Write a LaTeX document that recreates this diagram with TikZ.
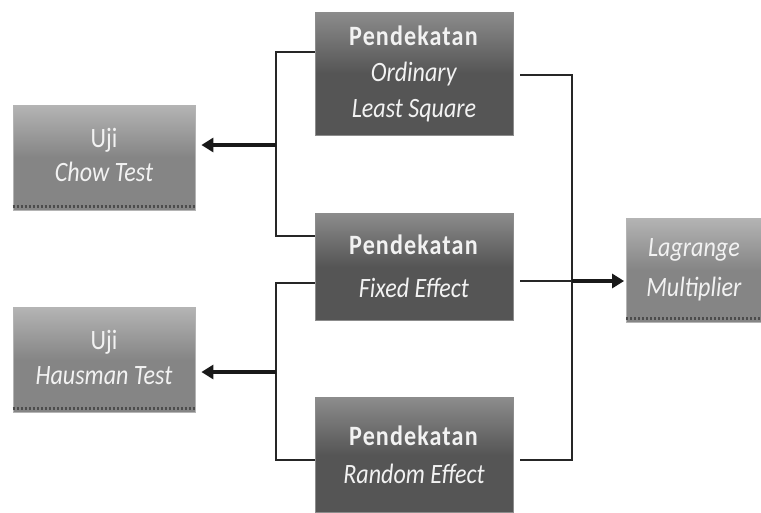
\documentclass[tikz,border=0pt]{standalone}
\usepackage{fontspec}
\setmainfont[FakeStretch=0.86]{Carlito}
\usetikzlibrary{arrows.meta}
\definecolor{darkbox}{HTML}{555555}
\definecolor{darktop}{HTML}{8C8C8C}
\definecolor{lightbox}{HTML}{858585}
\definecolor{lighttop}{HTML}{B4B4B4}
\definecolor{txt}{HTML}{F2F2F2}
\tikzset{
  darkstep/.style={draw=darktop, line width=0.8pt, top color=darktop, bottom color=darkbox, middle color=darkbox,
    minimum width=198pt, align=center, text=txt, inner sep=0pt},
  lightstep/.style={draw=lighttop, line width=0.8pt, top color=lighttop, bottom color=lightbox, middle color=lightbox,
    minimum width=182pt, minimum height=105pt, align=center, text=txt, inner sep=0pt},
  conn/.style={line width=1.4pt, draw=black!85},
  arr/.style={draw=black!90, line width=3.2pt, -{Triangle[length=12pt,width=14pt]}},
  shadowdots/.style={line width=3pt, draw=black!70, dash pattern=on 2pt off 2pt}
}
\newcommand{\pk}{\textbf{\addfontfeature{LetterSpace=4}Pendekatan}}
\newcommand{\fs}[1]{\fontsize{28}{#1}\selectfont}
\begin{document}
\begin{tikzpicture}[x=1pt,y=-1pt]
\useasboundingbox (0,0) rectangle (761,512);
\node[darkstep, minimum height=123pt, font=\fs{36}] (ols) at (414,73.5) {\pk\\\textit{Ordinary}\\\textit{Least Square}};
\node[darkstep, minimum height=107pt, font=\fs{43}] (fe) at (414,266.5) {\pk\\\textit{Fixed Effect}};
\node[darkstep, minimum height=115pt, font=\fs{38}] (re) at (414,455) {\pk\\\textit{Random Effect}};
\node[lightstep, font=\fs{34}, text depth=6pt] (chow) at (104,157.5) {Uji\\\textit{Chow Test}};
\node[lightstep, font=\fs{35}, text depth=6pt] (haus) at (104,360) {Uji\\\textit{Hausman Test}};
\node[lightstep, minimum width=135pt, minimum height=104pt, font=\fs{40}] (lm) at (694,270) {\textit{Lagrange}\\\textit{Multiplier}};
% dotted shadows
\draw[shadowdots] ([yshift=4pt]chow.south west) -- ([yshift=4pt]chow.south east);
\draw[shadowdots] ([yshift=4pt]haus.south west) -- ([yshift=4pt]haus.south east);
\draw[shadowdots] ([yshift=4pt]lm.south west) -- ([yshift=4pt]lm.south east);
% left brackets
\coordinate (b1t) at (276,52);
\coordinate (b1b) at (276,236);
\coordinate (b1m) at (276,145);
\draw[conn] (ols.west |- b1t) -- (b1t) -- (b1b) -- (fe.west |- b1b);
\draw[arr] (b1m) -- ([xshift=6pt]chow.east |- b1m);
\coordinate (b2t) at (276,283);
\coordinate (b2b) at (276,460);
\coordinate (b2m) at (276,372);
\draw[conn] (fe.west |- b2t) -- (b2t) -- (b2b) -- (re.west |- b2b);
\draw[arr] (b2m) -- ([xshift=6pt]haus.east |- b2m);
% right bracket
\coordinate (rt) at (572,75);
\coordinate (rb) at (572,460);
\coordinate (fm) at (572,281);
\draw[conn] ([xshift=7pt]ols.east |- rt) -- (rt) -- (rb) -- ([xshift=7pt]re.east |- rb);
\draw[conn] ([xshift=7pt]fe.east |- fm) -- (fm);
\draw[arr] (fm) -- ([xshift=-2pt]lm.west |- fm);
\end{tikzpicture}
\end{document}
